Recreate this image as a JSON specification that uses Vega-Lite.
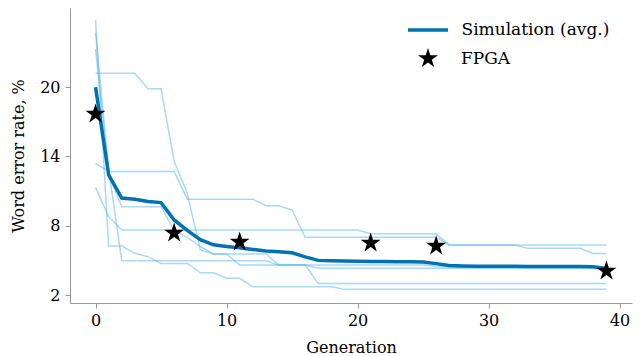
{
"$schema": "https://vega.github.io/schema/vega-lite/v6.json",
"width": 562, "height": 295,
"autosize": {"type": "none"},
"padding": {"left": 70, "top": 8, "right": 9, "bottom": 53},
"config": {
  "view": {"stroke": null},
  "font": "DejaVu Serif",
  "axis": {"grid": false, "domainColor": "#999999", "tickColor": "#999999", "tickSize": 5,
           "labelFont": "DejaVu Serif", "labelFontSize": 16, "labelColor": "black",
           "titleFont": "DejaVu Serif", "titleFontSize": 16, "titleFontWeight": "normal", "titleColor": "black"},
  "legend": {"labelFont": "DejaVu Serif", "labelFontSize": 17, "labelColor": "black"}
},
"datasets": {
"runs": [
{"r":"a","g":0,"v":25.8},{"r":"a","g":1,"v":6.24},{"r":"a","g":2,"v":6.24},{"r":"a","g":3,"v":5.61},{"r":"a","g":4,"v":5.32},{"r":"a","g":5,"v":4.74},{"r":"a","g":6,"v":4.74},{"r":"a","g":7,"v":4.74},{"r":"a","g":8,"v":3.93},{"r":"a","g":9,"v":3.93},{"r":"a","g":10,"v":3.45},{"r":"a","g":11,"v":3.45},{"r":"a","g":12,"v":2.72},{"r":"a","g":13,"v":2.72},{"r":"a","g":14,"v":2.72},{"r":"a","g":15,"v":2.72},{"r":"a","g":16,"v":2.72},{"r":"a","g":17,"v":2.72},{"r":"a","g":18,"v":2.72},{"r":"a","g":19,"v":2.49},{"r":"a","g":20,"v":2.49},{"r":"a","g":21,"v":2.49},{"r":"a","g":22,"v":2.49},{"r":"a","g":23,"v":2.49},{"r":"a","g":24,"v":2.49},{"r":"a","g":25,"v":2.49},{"r":"a","g":26,"v":2.49},{"r":"a","g":27,"v":2.49},{"r":"a","g":28,"v":2.49},{"r":"a","g":29,"v":2.49},{"r":"a","g":30,"v":2.49},{"r":"a","g":31,"v":2.49},{"r":"a","g":32,"v":2.49},{"r":"a","g":33,"v":2.49},{"r":"a","g":34,"v":2.49},{"r":"a","g":35,"v":2.49},{"r":"a","g":36,"v":2.49},{"r":"a","g":37,"v":2.49},{"r":"a","g":38,"v":2.49},{"r":"a","g":39,"v":2.49},
{"r":"b","g":0,"v":24.7},{"r":"b","g":1,"v":12.9},{"r":"b","g":2,"v":4.97},{"r":"b","g":3,"v":4.97},{"r":"b","g":4,"v":4.97},{"r":"b","g":5,"v":4.97},{"r":"b","g":6,"v":4.97},{"r":"b","g":7,"v":4.97},{"r":"b","g":8,"v":4.97},{"r":"b","g":9,"v":4.97},{"r":"b","g":10,"v":4.97},{"r":"b","g":11,"v":4.97},{"r":"b","g":12,"v":4.97},{"r":"b","g":13,"v":4.97},{"r":"b","g":14,"v":4.6},{"r":"b","g":15,"v":4.6},{"r":"b","g":16,"v":4.6},{"r":"b","g":17,"v":4.6},{"r":"b","g":18,"v":4.6},{"r":"b","g":19,"v":4.6},{"r":"b","g":20,"v":4.6},{"r":"b","g":21,"v":4.6},{"r":"b","g":22,"v":4.6},{"r":"b","g":23,"v":4.6},{"r":"b","g":24,"v":4.6},{"r":"b","g":25,"v":4.6},{"r":"b","g":26,"v":4.5},{"r":"b","g":27,"v":4.42},{"r":"b","g":28,"v":4.42},{"r":"b","g":29,"v":4.42},{"r":"b","g":30,"v":4.42},{"r":"b","g":31,"v":4.42},{"r":"b","g":32,"v":4.42},{"r":"b","g":33,"v":4.42},{"r":"b","g":34,"v":4.42},{"r":"b","g":35,"v":4.42},{"r":"b","g":36,"v":4.42},{"r":"b","g":37,"v":4.42},{"r":"b","g":38,"v":4.42},{"r":"b","g":39,"v":4.42},
{"r":"c","g":0,"v":23.3},{"r":"c","g":1,"v":12.5},{"r":"c","g":2,"v":9.65},{"r":"c","g":3,"v":9.65},{"r":"c","g":4,"v":9.65},{"r":"c","g":5,"v":9.65},{"r":"c","g":6,"v":7.6},{"r":"c","g":7,"v":7.0},{"r":"c","g":8,"v":6.2},{"r":"c","g":9,"v":5.55},{"r":"c","g":10,"v":5.55},{"r":"c","g":11,"v":5.55},{"r":"c","g":12,"v":5.55},{"r":"c","g":13,"v":5.55},{"r":"c","g":14,"v":4.6},{"r":"c","g":15,"v":4.6},{"r":"c","g":16,"v":4.6},{"r":"c","g":17,"v":3.0},{"r":"c","g":18,"v":3.0},{"r":"c","g":19,"v":3.0},{"r":"c","g":20,"v":3.0},{"r":"c","g":21,"v":3.0},{"r":"c","g":22,"v":3.0},{"r":"c","g":23,"v":3.0},{"r":"c","g":24,"v":3.0},{"r":"c","g":25,"v":3.0},{"r":"c","g":26,"v":3.0},{"r":"c","g":27,"v":3.0},{"r":"c","g":28,"v":3.0},{"r":"c","g":29,"v":3.0},{"r":"c","g":30,"v":3.0},{"r":"c","g":31,"v":3.0},{"r":"c","g":32,"v":3.0},{"r":"c","g":33,"v":3.0},{"r":"c","g":34,"v":3.0},{"r":"c","g":35,"v":3.0},{"r":"c","g":36,"v":3.0},{"r":"c","g":37,"v":3.0},{"r":"c","g":38,"v":3.0},{"r":"c","g":39,"v":3.0},
{"r":"d","g":0,"v":21.2},{"r":"d","g":1,"v":21.2},{"r":"d","g":2,"v":21.2},{"r":"d","g":3,"v":21.2},{"r":"d","g":4,"v":19.86},{"r":"d","g":5,"v":19.86},{"r":"d","g":6,"v":13.6},{"r":"d","g":7,"v":10.8},{"r":"d","g":8,"v":5.9},{"r":"d","g":9,"v":5.55},{"r":"d","g":10,"v":5.55},{"r":"d","g":11,"v":4.6},{"r":"d","g":12,"v":4.6},{"r":"d","g":13,"v":4.6},{"r":"d","g":14,"v":4.6},{"r":"d","g":15,"v":4.6},{"r":"d","g":16,"v":4.6},{"r":"d","g":17,"v":4.31},{"r":"d","g":18,"v":4.31},{"r":"d","g":19,"v":4.31},{"r":"d","g":20,"v":4.31},{"r":"d","g":21,"v":4.31},{"r":"d","g":22,"v":4.31},{"r":"d","g":23,"v":4.31},{"r":"d","g":24,"v":4.31},{"r":"d","g":25,"v":4.31},{"r":"d","g":26,"v":4.31},{"r":"d","g":27,"v":4.31},{"r":"d","g":28,"v":4.31},{"r":"d","g":29,"v":4.31},{"r":"d","g":30,"v":4.31},{"r":"d","g":31,"v":4.31},{"r":"d","g":32,"v":4.31},{"r":"d","g":33,"v":4.31},{"r":"d","g":34,"v":4.31},{"r":"d","g":35,"v":4.31},{"r":"d","g":36,"v":4.31},{"r":"d","g":37,"v":4.31},{"r":"d","g":38,"v":4.31},{"r":"d","g":39,"v":4.31},
{"r":"e","g":0,"v":13.4},{"r":"e","g":1,"v":12.7},{"r":"e","g":2,"v":12.7},{"r":"e","g":3,"v":12.7},{"r":"e","g":4,"v":12.7},{"r":"e","g":5,"v":12.7},{"r":"e","g":6,"v":12.7},{"r":"e","g":7,"v":10.3},{"r":"e","g":8,"v":10.3},{"r":"e","g":9,"v":10.3},{"r":"e","g":10,"v":10.3},{"r":"e","g":11,"v":10.3},{"r":"e","g":12,"v":10.3},{"r":"e","g":13,"v":9.73},{"r":"e","g":14,"v":9.73},{"r":"e","g":15,"v":9.36},{"r":"e","g":16,"v":7.0},{"r":"e","g":17,"v":7.0},{"r":"e","g":18,"v":7.0},{"r":"e","g":19,"v":7.0},{"r":"e","g":20,"v":7.0},{"r":"e","g":21,"v":7.0},{"r":"e","g":22,"v":7.0},{"r":"e","g":23,"v":7.0},{"r":"e","g":24,"v":7.0},{"r":"e","g":25,"v":7.0},{"r":"e","g":26,"v":7.0},{"r":"e","g":27,"v":6.33},{"r":"e","g":28,"v":6.33},{"r":"e","g":29,"v":6.33},{"r":"e","g":30,"v":6.33},{"r":"e","g":31,"v":6.33},{"r":"e","g":32,"v":6.33},{"r":"e","g":33,"v":6.04},{"r":"e","g":34,"v":6.04},{"r":"e","g":35,"v":6.04},{"r":"e","g":36,"v":6.04},{"r":"e","g":37,"v":6.04},{"r":"e","g":38,"v":5.6},{"r":"e","g":39,"v":5.6},
{"r":"f","g":0,"v":11.3},{"r":"f","g":1,"v":8.8},{"r":"f","g":2,"v":7.63},{"r":"f","g":3,"v":7.63},{"r":"f","g":4,"v":7.63},{"r":"f","g":5,"v":7.63},{"r":"f","g":6,"v":7.63},{"r":"f","g":7,"v":7.63},{"r":"f","g":8,"v":7.63},{"r":"f","g":9,"v":7.63},{"r":"f","g":10,"v":7.63},{"r":"f","g":11,"v":7.63},{"r":"f","g":12,"v":7.63},{"r":"f","g":13,"v":7.63},{"r":"f","g":14,"v":7.63},{"r":"f","g":15,"v":7.63},{"r":"f","g":16,"v":7.63},{"r":"f","g":17,"v":7.63},{"r":"f","g":18,"v":7.63},{"r":"f","g":19,"v":7.63},{"r":"f","g":20,"v":7.63},{"r":"f","g":21,"v":7.3},{"r":"f","g":22,"v":7.3},{"r":"f","g":23,"v":7.3},{"r":"f","g":24,"v":7.3},{"r":"f","g":25,"v":7.3},{"r":"f","g":26,"v":7.3},{"r":"f","g":27,"v":6.33},{"r":"f","g":28,"v":6.33},{"r":"f","g":29,"v":6.33},{"r":"f","g":30,"v":6.33},{"r":"f","g":31,"v":6.33},{"r":"f","g":32,"v":6.33},{"r":"f","g":33,"v":6.33},{"r":"f","g":34,"v":6.33},{"r":"f","g":35,"v":6.33},{"r":"f","g":36,"v":6.33},{"r":"f","g":37,"v":6.33},{"r":"f","g":38,"v":6.33},{"r":"f","g":39,"v":6.33}
],
"avg": [
{"s":"Simulation (avg.)","g":0,"v":20.0},{"s":"Simulation (avg.)","g":1,"v":12.4},{"s":"Simulation (avg.)","g":2,"v":10.4},{"s":"Simulation (avg.)","g":3,"v":10.3},{"s":"Simulation (avg.)","g":4,"v":10.1},{"s":"Simulation (avg.)","g":5,"v":10.0},{"s":"Simulation (avg.)","g":6,"v":8.5},{"s":"Simulation (avg.)","g":7,"v":7.6},{"s":"Simulation (avg.)","g":8,"v":6.8},{"s":"Simulation (avg.)","g":9,"v":6.35},{"s":"Simulation (avg.)","g":10,"v":6.2},{"s":"Simulation (avg.)","g":11,"v":6.1},{"s":"Simulation (avg.)","g":12,"v":5.95},{"s":"Simulation (avg.)","g":13,"v":5.82},{"s":"Simulation (avg.)","g":14,"v":5.74},{"s":"Simulation (avg.)","g":15,"v":5.66},{"s":"Simulation (avg.)","g":16,"v":5.3},{"s":"Simulation (avg.)","g":17,"v":5.0},{"s":"Simulation (avg.)","g":18,"v":4.96},{"s":"Simulation (avg.)","g":19,"v":4.94},{"s":"Simulation (avg.)","g":20,"v":4.92},{"s":"Simulation (avg.)","g":21,"v":4.9},{"s":"Simulation (avg.)","g":22,"v":4.9},{"s":"Simulation (avg.)","g":23,"v":4.89},{"s":"Simulation (avg.)","g":24,"v":4.88},{"s":"Simulation (avg.)","g":25,"v":4.86},{"s":"Simulation (avg.)","g":26,"v":4.72},{"s":"Simulation (avg.)","g":27,"v":4.55},{"s":"Simulation (avg.)","g":28,"v":4.52},{"s":"Simulation (avg.)","g":29,"v":4.5},{"s":"Simulation (avg.)","g":30,"v":4.5},{"s":"Simulation (avg.)","g":31,"v":4.5},{"s":"Simulation (avg.)","g":32,"v":4.49},{"s":"Simulation (avg.)","g":33,"v":4.48},{"s":"Simulation (avg.)","g":34,"v":4.48},{"s":"Simulation (avg.)","g":35,"v":4.48},{"s":"Simulation (avg.)","g":36,"v":4.48},{"s":"Simulation (avg.)","g":37,"v":4.48},{"s":"Simulation (avg.)","g":38,"v":4.45},{"s":"Simulation (avg.)","g":39,"v":4.3}
],
"fpga": [
{"k":"FPGA","g":0,"v":17.67},{"k":"FPGA","g":6,"v":7.37},{"k":"FPGA","g":11,"v":6.59},{"k":"FPGA","g":21,"v":6.5},{"k":"FPGA","g":26,"v":6.24},{"k":"FPGA","g":39,"v":4.08}
]
},
"layer": [
  {"data": {"name": "runs"},
   "mark": {"type": "line", "color": "#56B4E9", "opacity": 0.5, "strokeWidth": 1.5},
   "encoding": {
     "x": {"field": "g", "type": "quantitative", "title": "Generation",
        "scale": {"domain": [-1.95, 40.95], "nice": false, "zero": false},
        "axis": {"values": [0, 10, 20, 30, 40], "labelPadding": 4, "titlePadding": 11,
                 "titleFont": "DejaVu Serif", "titleFontSize": 16, "titleFontWeight": "normal"}},
     "y": {"field": "v", "type": "quantitative", "title": "Word error rate, %",
        "scale": {"domain": [1.31, 26.85], "nice": false, "zero": false},
        "axis": {"values": [2, 8, 14, 20], "labelPadding": 5, "titlePadding": 13,
                 "titleFont": "DejaVu Serif", "titleFontSize": 16, "titleFontWeight": "normal"}},
     "detail": {"field": "r", "type": "nominal"}}},
  {"data": {"name": "avg"},
   "mark": {"type": "line", "strokeWidth": 3.5},
   "encoding": {
     "x": {"field": "g", "type": "quantitative"},
     "y": {"field": "v", "type": "quantitative"},
     "color": {"field": "s", "type": "nominal",
       "scale": {"domain": ["Simulation (avg.)"], "range": ["#0072B2"]},
       "legend": {"title": null, "orient": "none", "legendX": 336, "legendY": 0,
         "symbolType": "stroke", "symbolSize": 1600, "symbolStrokeWidth": 3.5, "labelOffset": 11.5,
         "labelFont": "DejaVu Serif", "labelFontSize": 17, "labelColor": "black"}}}},
  {"data": {"name": "fpga"},
   "mark": {"type": "point", "filled": true, "size": 440, "opacity": 1, "color": "black"},
   "encoding": {
     "x": {"field": "g", "type": "quantitative"},
     "y": {"field": "v", "type": "quantitative"},
     "shape": {"field": "k", "type": "nominal",
       "scale": {"domain": ["FPGA"], "range": ["M0,-1L0.2245,-0.309L0.9511,-0.309L0.3633,0.118L0.5878,0.809L0,0.382L-0.5878,0.809L-0.3633,0.118L-0.9511,-0.309L-0.2245,-0.309Z"]},
       "legend": {"title": null, "orient": "none", "legendX": 347.5, "legendY": 40,
         "symbolSize": 440, "symbolFillColor": "black", "symbolStrokeWidth": 0, "labelOffset": 22.5,
         "labelFont": "DejaVu Serif", "labelFontSize": 17, "labelColor": "black"}}}}
]
}
